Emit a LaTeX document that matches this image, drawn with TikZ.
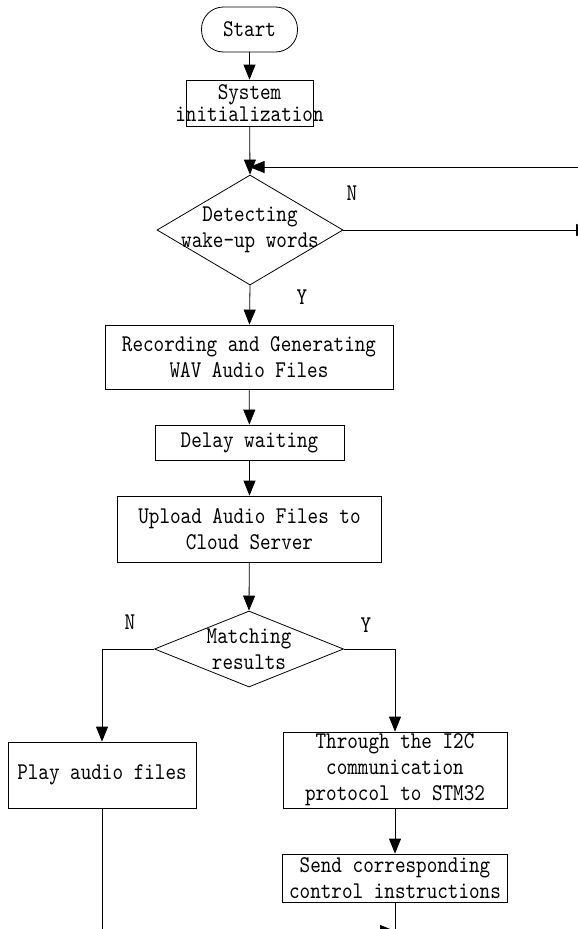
\documentclass[tikz,border=0pt]{standalone}
\usepackage{fontspec}
\newfontfamily\flowfont{lmmono10-regular.otf}[FakeStretch=0.84]
\usetikzlibrary{arrows.meta, calc, shapes.geometric}

\tikzset{
  flowline/.style={draw, line width=0.8pt},
  flowarrow/.style={flowline, -{Triangle[length=15pt, width=12pt]}},
  flowtext/.style={font=\flowfont\fontsize{24}{26}\selectfont, align=center, inner sep=0pt},
  terminal/.style={flowtext, draw, line width=0.8pt, rounded corners=22pt},
  procbox/.style={flowtext, draw, line width=0.8pt},
  decision/.style={diamond, draw, line width=0.8pt, inner sep=0pt},
}

\begin{document}
\begin{tikzpicture}[x=1pt, y=-1pt]
    \clip (0,0) rectangle (578,929);

    % Main column
    \node[terminal, minimum width=96pt, minimum height=45pt] (start) at (249.5,29.5) {Start};
    \node[procbox, minimum width=127pt, minimum height=46pt,
          font=\flowfont\fontsize{24}{22}\selectfont] (init) at (249.5,103)
          {System\\\makebox[0pt]{initialization}};

    \node[decision, minimum width=186pt, minimum height=110pt] (detect) at (250,230) {};
    \node[flowtext] (detecttxt) at (250,230) {Detecting\\wake-up words};

    \node[procbox, minimum width=288pt, minimum height=64pt] (record) at (249,357)
          {Recording and Generating\\WAV Audio Files};
    \node[procbox, minimum width=189pt, minimum height=35pt] (delay) at (249.5,442.5) {Delay waiting};
    \node[procbox, minimum width=264pt, minimum height=66pt] (upload) at (249.5,529)
          {Upload Audio Files to\\Cloud Server};

    \node[decision, minimum width=189pt, minimum height=76pt] (match) at (249,649) {};
    \node[flowtext] (matchtxt) at (249,649) {Matching\\results};

    % Two branches
    \node[procbox, minimum width=188pt, minimum height=66pt] (play) at (102,775) {Play audio files};
    \node[procbox, minimum width=224pt, minimum height=76pt] (through) at (395,770)
          {Through the I2C\\communication\\protocol to STM32};
    \node[procbox, minimum width=225pt, minimum height=48pt] (send) at (395,878)
          {Send corresponding\\control instructions};

    % Branch labels
    \node[flowtext] (detectno) at (352,193) {N};
    \node[flowtext] (detectyes) at (302,297) {Y};
    \node[flowtext] (matchno) at (130,622) {N};
    \node[flowtext] (matchyes) at (366,625) {Y};

    % Loose ends running off the page
    \coordinate (loopin) at (600,167);
    \coordinate (noout) at (591,230);
    \coordinate (joinin) at (395,931);
    \coordinate (rightdown) at (395,950);

    % Connectors
    \draw[flowarrow] (start) -- (init);
    \draw[flowarrow] (init) -- (detect.north);
    \draw[flowarrow] (loopin) -- (loopin -| init.south);
    \draw[flowarrow] (detect.east) -- (noout);
    \draw[flowarrow] (detect.south) -- (record);
    \draw[flowarrow] (record) -- (delay);
    \draw[flowarrow] (delay) -- (upload);
    \draw[flowarrow] (upload) -- (match.north);
    \draw[flowarrow] (match.west) -| (play.north);
    \draw[flowarrow] (match.east) -| (through.north);
    \draw[flowarrow] (through) -- (send);
    \draw[flowarrow] (play.south) |- (joinin);
    \draw[flowline] (send.south) -- (rightdown);
\end{tikzpicture}
\end{document}
